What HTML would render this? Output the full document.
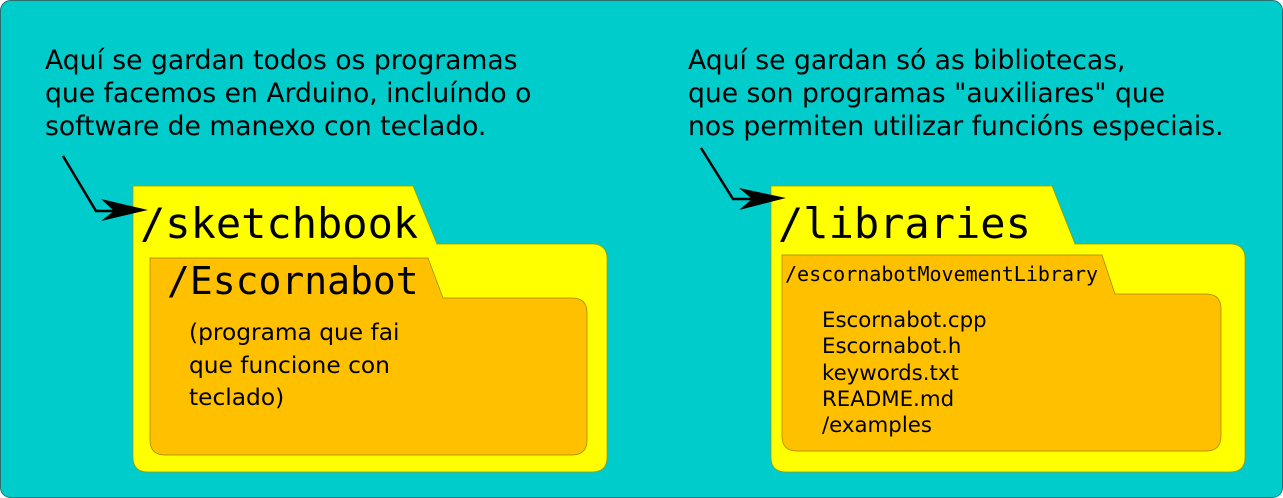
<!DOCTYPE html>
<html><head><meta charset="utf-8"><style>
html,body{margin:0;padding:0;background:#fff;width:1283px;height:498px;overflow:hidden}
svg{display:block}
.s{font-family:"DejaVu Sans","Liberation Sans",sans-serif;fill:#000}
.m{font-family:"DejaVu Sans Mono","Liberation Mono",monospace;fill:#000}
</style></head><body>
<svg width="1283" height="498" viewBox="0 0 1283 498" xmlns="http://www.w3.org/2000/svg">
<rect x="0.5" y="0.5" width="1282" height="497" rx="10" fill="#00cccc" stroke="#2a6f6f"/>
<g class="s" font-size="26.6">
<text x="45" y="69">Aquí se gardan todos os programas</text>
<text x="45" y="102">que facemos en Arduino, incluíndo o</text>
<text x="45" y="135">software de manexo con teclado.</text>
<text x="688" y="69">Aquí se gardan só as bibliotecas,</text>
<text x="688" y="102">que son programas "auxiliares" que</text>
<text x="688" y="135">nos permiten utilizar funcións especiais.</text>
</g>
<!-- left folder -->
<path d="M133,186 L413,186 L437,244 L592,244 Q607,244 607,259 L607,457 Q607,472 592,472 L148,472 Q133,472 133,457 Z" fill="#ffff00" stroke="#9a9a00" stroke-width="0.7"/>
<path d="M150,258 L428,258 L443,298 L572,298 Q587,298 587,313 L587,440 Q587,455 572,455 L165,455 Q150,455 150,440 Z" fill="#ffc000" stroke="#a08000" stroke-width="0.7"/>
<text class="m" x="140" y="238" font-size="42">/sketchbook</text>
<text class="m" x="167" y="294" font-size="38">/Escornabot</text>
<g class="s" font-size="23.3">
<text x="189" y="340">(programa que fai</text>
<text x="189" y="373">que funcione con</text>
<text x="189" y="405">teclado)</text>
</g>
<!-- right folder -->
<path d="M771,186 L1052,186 L1075,244 L1230,244 Q1245,244 1245,259 L1245,457 Q1245,472 1230,472 L786,472 Q771,472 771,457 Z" fill="#ffff00" stroke="#9a9a00" stroke-width="0.7"/>
<path d="M782,255 L1102,255 L1115,294 L1206,294 Q1221,294 1221,309 L1221,436 Q1221,451 1206,451 L797,451 Q782,451 782,436 Z" fill="#ffc000" stroke="#a08000" stroke-width="0.7"/>
<text class="m" x="778" y="238" font-size="42">/libraries</text>
<text class="m" x="785" y="281" font-size="20">/escornabotMovementLibrary</text>
<g class="s" font-size="21.3">
<text x="822" y="327">Escornabot.cpp</text>
<text x="822" y="353">Escornabot.h</text>
<text x="822" y="380">keywords.txt</text>
<text x="822" y="406">README.md</text>
<text x="822" y="432">/examples</text>
</g>
<!-- arrows -->
<polyline points="63,156 96,211 122,211" fill="none" stroke="#000" stroke-width="2.5"/>
<path d="M148,210 L101,221 L114,211 L101,199 Z" fill="#000"/>
<polyline points="701,148 733,199 760,199" fill="none" stroke="#000" stroke-width="2.5"/>
<path d="M786,198 L739,210 L752,199 L739,188 Z" fill="#000"/>
</svg>
</body></html>
